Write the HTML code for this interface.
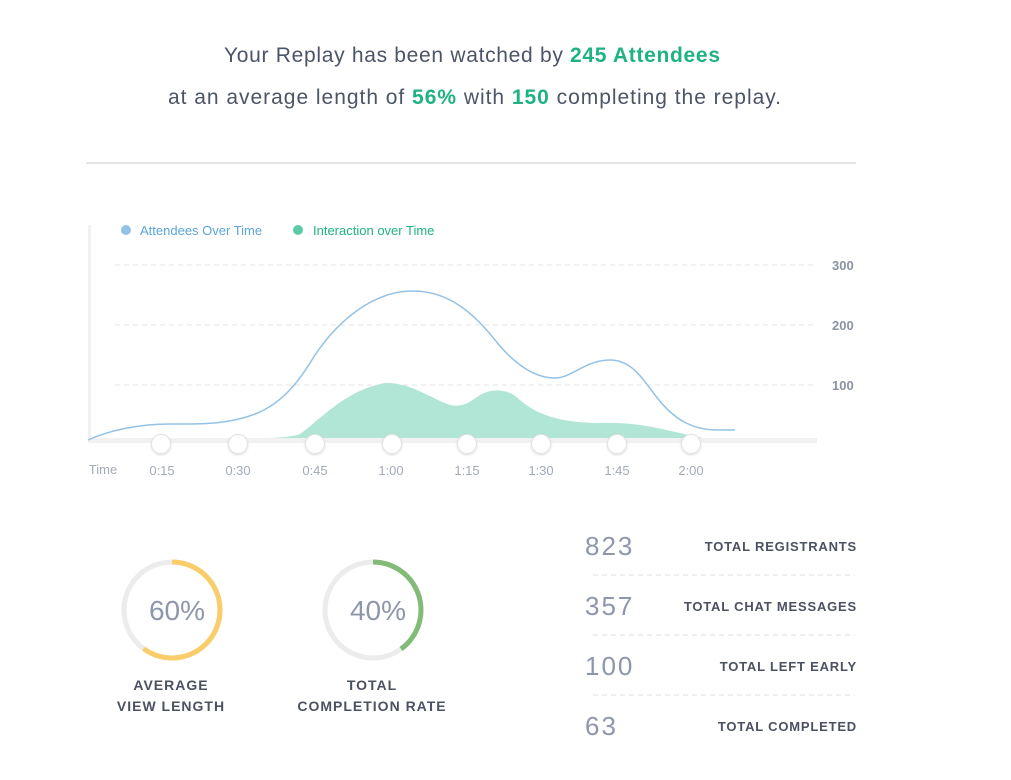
<!DOCTYPE html>
<html><head><meta charset="utf-8"><style>
body{margin:0;background:#fff;width:1011px;height:780px;overflow:hidden;font-family:"Liberation Sans",sans-serif}
svg{position:absolute;left:0;top:0}
</style></head><body>
<svg width="1011" height="780" viewBox="0 0 1011 780" font-family="Liberation Sans, sans-serif">
<defs><filter id="sh" x="-50%" y="-50%" width="200%" height="200%"><feDropShadow dx="0" dy="1" stdDeviation="1" flood-color="#000" flood-opacity="0.15"/></filter></defs>
<text x="472" y="62" text-anchor="middle" font-size="21" fill="#4b5567" textLength="496" lengthAdjust="spacing">Your Replay has been watched by <tspan fill="#1fb283" font-weight="bold">245 Attendees</tspan></text>
<text x="474.5" y="104" text-anchor="middle" font-size="21" fill="#4b5567" textLength="613" lengthAdjust="spacing">at an average length of <tspan fill="#1fb283" font-weight="bold">56%</tspan> with <tspan fill="#1fb283" font-weight="bold">150</tspan> completing the replay.</text>
<line x1="86" y1="163" x2="856" y2="163" stroke="#e6e6e6" stroke-width="2"/>
<circle cx="126" cy="230" r="5" fill="#94c2e6"/>
<text x="140" y="235" font-size="13" fill="#5ba5dc">Attendees Over Time</text>
<circle cx="298" cy="230" r="5" fill="#5ccca6"/>
<text x="313" y="235" font-size="13" fill="#1fb283">Interaction over Time</text>
<g stroke="#e3e3e3" stroke-dasharray="5,4" stroke-width="1">
<line x1="115" y1="265" x2="815" y2="265"/><line x1="115" y1="325" x2="815" y2="325"/><line x1="115" y1="385" x2="815" y2="385"/></g>
<g font-size="13" fill="#8b93a3" font-weight="bold"><text x="832" y="270">300</text><text x="832" y="330">200</text><text x="832" y="390">100</text></g>
<line x1="89.5" y1="225" x2="89.5" y2="442" stroke="#f1f1f1" stroke-width="3"/>
<path d="M160,440 C200,440 220,439 240,439 C270,438 290,438 300,434 C320,420 345,390 385,383 C410,382 430,398 450,405 C465,408 472,400 480,395 C495,387 510,390 520,400 C540,418 570,423 600,423 C630,422 650,426 680,433 C700,438 710,440 730,440 Z" fill="#b1e5d5"/>
<rect x="88" y="438" width="729" height="5" fill="#f1f1f1"/>
<path d="M88,440 C110,430 140,424 170,424 C200,424 230,425 260,412 C285,400 300,380 315,355 C340,318 375,291 413,291 C450,291 475,315 495,340 C515,365 535,378 555,378 C572,378 585,360 610,360 C630,360 640,375 655,395 C675,422 695,430 718,430 L735,430" fill="none" stroke="#94c2e6" stroke-width="1.5"/>
<g fill="#fff" stroke="#e2e2e2" filter="url(#sh)">
<circle cx="161" cy="444" r="9.5"/><circle cx="238" cy="444" r="9.5"/><circle cx="315" cy="444" r="9.5"/><circle cx="392" cy="444" r="9.5"/><circle cx="467" cy="444" r="9.5"/><circle cx="541" cy="444" r="9.5"/><circle cx="617" cy="444" r="9.5"/><circle cx="691" cy="444" r="9.5"/></g>
<g font-size="13" fill="#a3aab8" text-anchor="middle">
<text x="103" y="474">Time</text><text x="162" y="475">0:15</text><text x="238" y="475">0:30</text><text x="315" y="475">0:45</text><text x="391" y="475">1:00</text><text x="467" y="475">1:15</text><text x="541" y="475">1:30</text><text x="617" y="475">1:45</text><text x="691" y="475">2:00</text></g>
<circle cx="172" cy="610" r="48" fill="none" stroke="#ececec" stroke-width="5"/>
<circle cx="172" cy="610" r="48" fill="none" stroke="#f9cd6a" stroke-width="5" stroke-dasharray="180.96 301.6" transform="rotate(-90 172 610)"/>
<circle cx="373" cy="610" r="48" fill="none" stroke="#ececec" stroke-width="5"/>
<circle cx="373" cy="610" r="48" fill="none" stroke="#82bb77" stroke-width="5" stroke-dasharray="120.64 301.6" transform="rotate(-90 373 610)"/>
<g font-size="28" fill="#8e96ab" text-anchor="middle"><text x="177" y="620">60%</text><text x="378" y="620">40%</text></g>
<g font-size="14" font-weight="bold" fill="#4b5161" text-anchor="middle" letter-spacing="1">
<text x="171" y="690">AVERAGE</text><text x="171" y="711">VIEW LENGTH</text>
<text x="372" y="690">TOTAL</text><text x="372" y="711">COMPLETION RATE</text></g>
<g font-size="26" fill="#8e96ab" letter-spacing="2"><text x="585" y="555">823</text><text x="585" y="615">357</text><text x="585" y="675">100</text><text x="585" y="735">63</text></g>
<g font-size="13" font-weight="bold" fill="#4b5161" text-anchor="end" letter-spacing="0.8">
<text x="857" y="551">TOTAL REGISTRANTS</text><text x="857" y="611">TOTAL CHAT MESSAGES</text><text x="857" y="671">TOTAL LEFT EARLY</text><text x="857" y="731">TOTAL COMPLETED</text></g>
<g stroke="#d8dde6" stroke-dasharray="5,4"><line x1="593" y1="575" x2="855" y2="575"/><line x1="593" y1="635" x2="855" y2="635"/><line x1="593" y1="695" x2="855" y2="695"/></g>
</svg>
</body></html>
